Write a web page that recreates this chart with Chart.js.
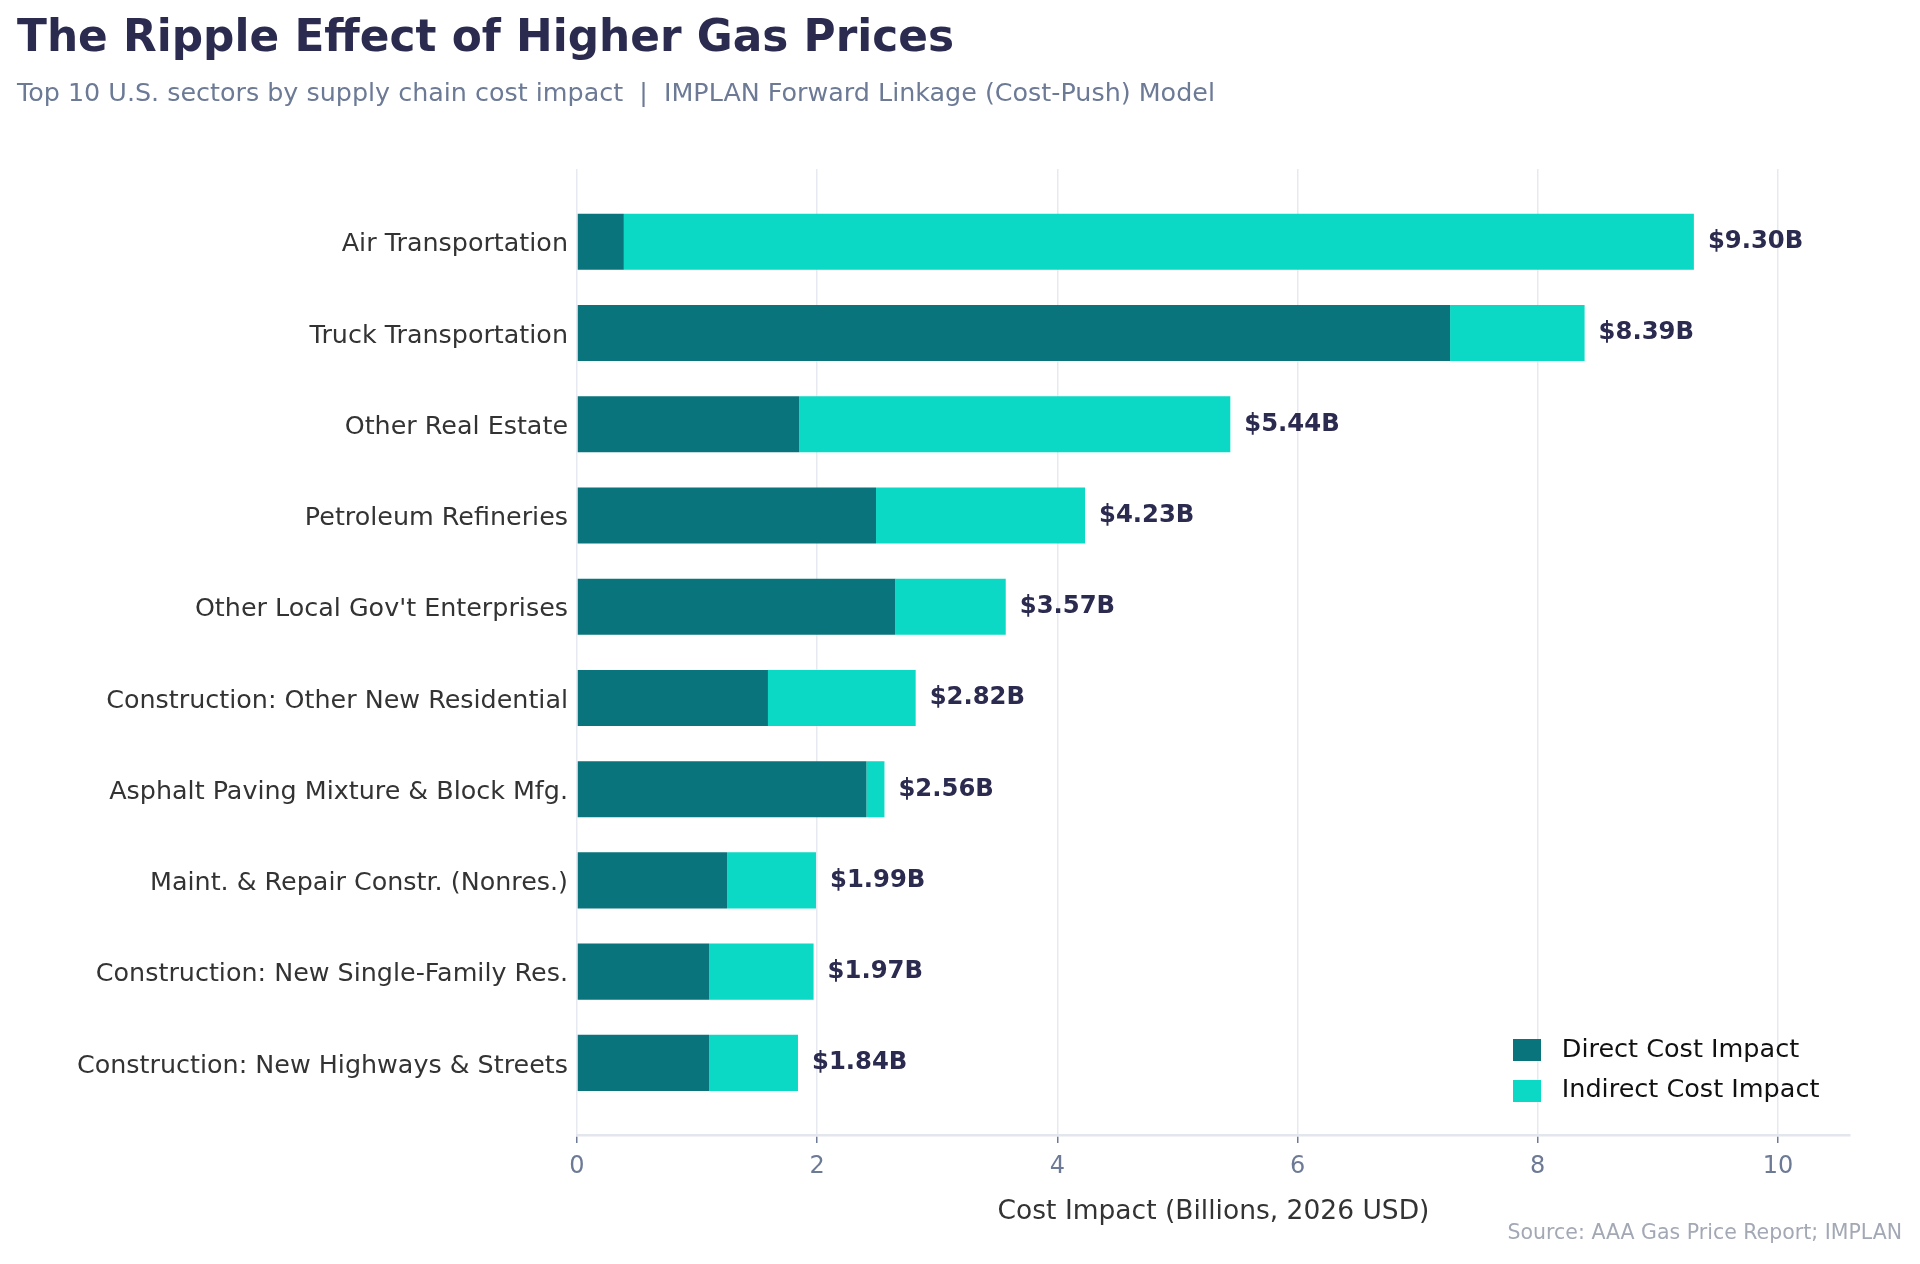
<!DOCTYPE html>
<html>
<head>
<meta charset="utf-8">
<script src="https://cdn.jsdelivr.net/npm/chart.js@4.4.0/dist/chart.umd.min.js"></script>
<style>
html, body { margin: 0; padding: 0; background: #ffffff; }
#wrap { width: 1920px; height: 1264px; position: relative; }
</style>
</head>
<body>
<div id="wrap"><canvas id="c"></canvas></div>
<script>
// ---- Data ----
const categories = [
  "Air Transportation",
  "Truck Transportation",
  "Other Real Estate",
  "Petroleum Refineries",
  "Other Local Gov't Enterprises",
  "Construction: Other New Residential",
  "Asphalt Paving Mixture & Block Mfg.",
  "Maint. & Repair Constr. (Nonres.)",
  "Construction: New Single-Family Res.",
  "Construction: New Highways & Streets"
];
const directValues   = [0.39, 7.27, 1.85, 2.49, 2.65, 1.59, 2.41, 1.25, 1.10, 1.10];
const indirectValues = [8.91, 1.12, 3.59, 1.74, 0.92, 1.23, 0.15, 0.74, 0.87, 0.74];
const xTicks = [0, 2, 4, 6, 8, 10];
const seriesNames = ["Direct Cost Impact", "Indirect Cost Impact"];

const titleText = "The Ripple Effect of Higher Gas Prices";
const subtitleText = "Top 10 U.S. sectors by supply chain cost impact  |  IMPLAN Forward Linkage (Cost-Push) Model";
const xTitleText = "Cost Impact (Billions, 2026 USD)";
const sourceText = "Source: AAA Gas Price Report; IMPLAN";

// ---- Style ----
const FONT = '"DejaVu Sans", "Liberation Sans", sans-serif';
const COL_DIRECT = '#09747b';
const COL_INDIRECT = '#0bd9c5';
const COL_TITLE = '#2b2a4f';
const COL_SUB = '#6c7a96';
const COL_GRID = '#e6e9ef';
const seriesColors = [COL_DIRECT, COL_INDIRECT];

const toPoints = (arr) => arr.map((v, i) => ({ x: v, y: i }));

// legend swatch: 28x22 box with transparent space to its right (widens the text gap)
function makeSwatch(color) {
  const c = document.createElement('canvas');
  c.width = 36; c.height = 22;
  const g = c.getContext('2d');
  g.fillStyle = color;
  g.fillRect(0, 0, 28, 22);
  return c;
}
const swatches = seriesColors.map(makeSwatch);

const textPlugin = {
  id: 'textPlugin',
  afterDraw(chart) {
    const ctx = chart.ctx;
    ctx.save();
    ctx.textAlign = 'left';
    ctx.textBaseline = 'alphabetic';
    ctx.fillStyle = COL_TITLE;
    ctx.font = 'bold 43.8px ' + FONT;
    ctx.fillText(titleText, 17, 51);
    ctx.fillStyle = COL_SUB;
    ctx.font = '25.4px ' + FONT;
    ctx.fillText(subtitleText, 17, 101);
    ctx.fillStyle = '#a3a8b5';
    ctx.font = '20.5px ' + FONT;
    ctx.textAlign = 'right';
    ctx.textBaseline = 'middle';
    ctx.fillText(sourceText, 1902, 1234);
    ctx.restore();
  }
};

const valueLabels = {
  id: 'valueLabels',
  afterDatasetsDraw(chart) {
    const { ctx, scales: { x, y } } = chart;
    ctx.save();
    ctx.font = 'bold 24.3px ' + FONT;
    ctx.fillStyle = COL_TITLE;
    ctx.textAlign = 'left';
    ctx.textBaseline = 'middle';
    categories.forEach((c, i) => {
      const total = directValues[i] + indirectValues[i];
      ctx.fillText('$' + total.toFixed(2) + 'B', x.getPixelForValue(total) + 14, y.getPixelForValue(i));
    });
    ctx.restore();
  }
};

const legendPlace = {
  id: 'legendPlace',
  afterLayout(chart) {
    const lg = chart.legend;
    const ca = chart.chartArea;
    const pad = lg.options.labels.padding;
    lg.left = ca.right - 337 - pad;
    lg.right = lg.left + 420;
    lg.top = ca.bottom - 97.5 - pad;
    lg.bottom = lg.top + 140;
    lg.width = 420;
    lg.height = 140;
  }
};

new Chart(document.getElementById('c'), {
  type: 'bar',
  data: {
    datasets: [
      {
        label: seriesNames[0],
        data: toPoints(directValues),
        backgroundColor: COL_DIRECT,
        borderWidth: 0
      },
      {
        label: seriesNames[1],
        data: toPoints(indirectValues),
        backgroundColor: COL_INDIRECT,
        borderWidth: 0
      }
    ]
  },
  options: {
    indexAxis: 'y',
    responsive: true,
    maintainAspectRatio: false,
    animation: false,
    devicePixelRatio: 1,
    datasets: { bar: { categoryPercentage: 1.0, barPercentage: 0.615 } },
    layout: { padding: { top: 169, left: 17, right: 70, bottom: 29 } },
    scales: {
      x: {
        type: 'linear',
        stacked: true,
        min: 0,
        max: 10.6,
        offset: false,
        afterBuildTicks: (s) => { s.ticks = xTicks.map(v => ({ value: v })); },
        afterFit: (s) => { s.height = 100; },
        grid: {
          offset: false,
          color: COL_GRID,
          lineWidth: 1.5,
          drawTicks: true,
          tickLength: 8,
          tickColor: COL_SUB,
          tickWidth: 1.5
        },
        border: { display: true, color: '#e3e6ed', width: 2.5 },
        ticks: {
          color: COL_SUB,
          font: { family: FONT, size: 24 },
          padding: 9.5
        },
        title: {
          display: true,
          text: xTitleText,
          color: '#333333',
          font: { family: FONT, size: 26.5 },
          padding: { top: 0, bottom: 6.5 }
        }
      },
      y: {
        type: 'linear',
        stacked: true,
        reverse: true,
        offset: false,
        min: -0.797,
        max: 9.79,
        afterBuildTicks: (s) => { s.ticks = categories.map((c, i) => ({ value: i })); },
        afterFit: (s) => { s.width = 560; },
        grid: { display: false, drawTicks: false, offset: false },
        border: { display: false },
        ticks: {
          autoSkip: false,
          color: '#333333',
          font: { family: FONT, size: 25.4 },
          padding: 9,
          labelOffset: 3,
          callback: (v) => categories[v]
        }
      }
    },
    plugins: {
      legend: {
        display: true,
        position: 'chartArea',
        align: 'start',
        labels: {
          usePointStyle: true,
          pointStyleWidth: 36,
          boxHeight: 22,
          padding: 15,
          color: '#111111',
          font: { family: FONT, size: 25.5 },
          generateLabels(chart) {
            const items = Chart.defaults.plugins.legend.labels.generateLabels(chart);
            items.forEach((it, i) => { it.pointStyle = swatches[i]; });
            return items;
          }
        }
      },
      tooltip: { enabled: false },
      title: { display: false }
    }
  },
  plugins: [textPlugin, valueLabels, legendPlace]
});
</script>
</body>
</html>
